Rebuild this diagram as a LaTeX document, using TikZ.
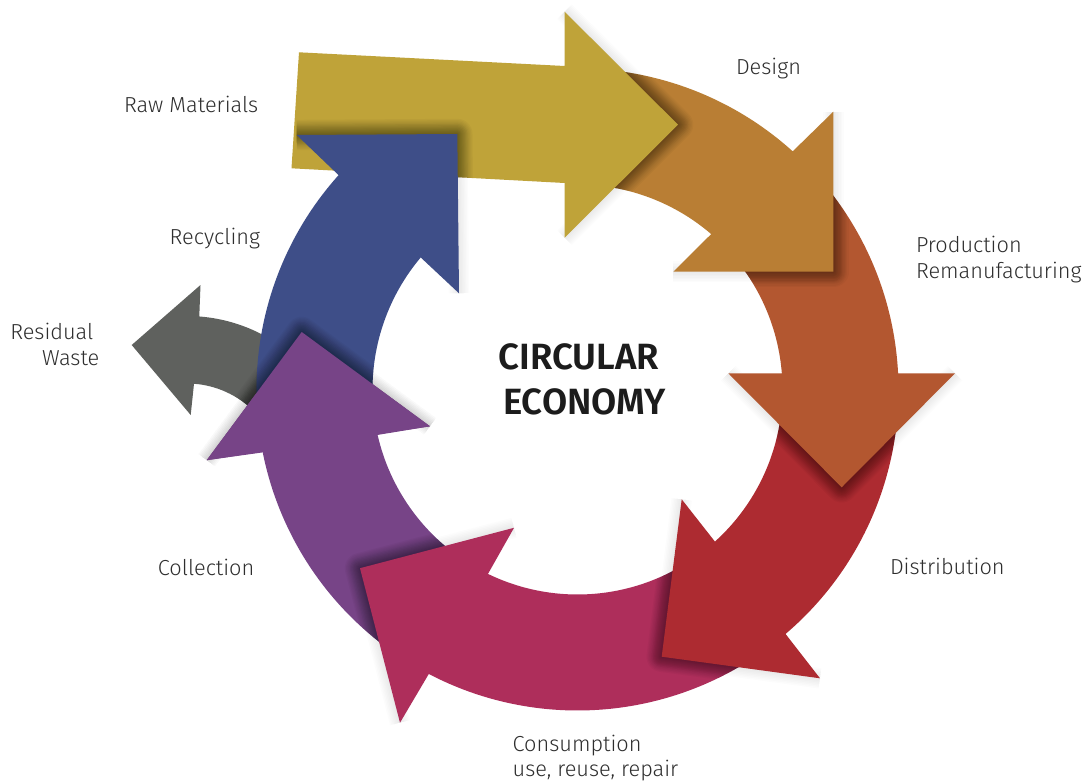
\documentclass[tikz,border=0pt]{standalone}
\usepackage{fontspec}
\setmainfont{Fira Sans}[UprightFont={* Light},BoldFont={* SemiBold}]
\usetikzlibrary{calc}
\definecolor{cgold}{HTML}{BFA339}
\definecolor{cdesign}{HTML}{B97E34}
\definecolor{cprod}{HTML}{B35730}
\definecolor{cdist}{HTML}{AD2B31}
\definecolor{ccons}{HTML}{AE2E5B}
\definecolor{ccoll}{HTML}{774487}
\definecolor{crecy}{HTML}{3E4E88}
\definecolor{cwaste}{HTML}{5F615E}
\definecolor{labelgray}{HTML}{2E2E2E}
\definecolor{titlegray}{HTML}{1C1C1C}
% #1: outline of the arrow lying beneath, #2-#4: corner, tip, corner of the head
\newcommand\headshade[4]{%
  \foreach \i in {1,...,7}{%
    \pgfmathsetmacro\shw{2.2*\i}%
    \draw[black,opacity=0.012,line width=\shw pt,line join=round] (#2) -- (#3) -- (#4);}%
  \begin{scope}
    \clip #1;
    \foreach \i in {1,...,12}{%
      \pgfmathsetmacro\shw{1.9*\i}%
      \draw[black,opacity=0.032,line width=\shw pt,line join=round] (#2) -- (#3) -- (#4);}%
  \end{scope}}
\begin{document}
\begin{tikzpicture}[x=0.75pt,y=-0.75pt,
  lbl/.style={inner sep=0pt,outer sep=0pt,text=labelgray,font=\fontsize{16.3}{19}\selectfont},
  ttl/.style={inner sep=0pt,outer sep=0pt,text=titlegray,font=\fontsize{27.4}{32}\selectfont\bfseries}]
\useasboundingbox (0,0) rectangle (1089,781);
\fill[white] (0,0) rectangle (1089,781);
\coordinate (C) at (577.5,389.5);
\coordinate (G) at (187,478);
\def\Ro{240.75pt}\def\Ri{153.75pt}
% arrow head points
\coordinate (dHO) at (833.3,111.7); \coordinate (dHT) at (833.3,271.7); \coordinate (dHI) at (673.3,271.7);
\coordinate (pHO) at (955,373.3);   \coordinate (pHT) at (841.7,487.3); \coordinate (pHI) at (728.3,373.3);
\coordinate (rHO) at (820,678.3);   \coordinate (rHT) at (661.7,656.7); \coordinate (rHI) at (681.7,499.3);
\coordinate (mHO) at (400,722.7);   \coordinate (mHT) at (360,568.2);   \coordinate (mHI) at (514,527.8);
\coordinate (uHO) at (206.7,460.2); \coordinate (uHT) at (301.7,332);   \coordinate (uHI) at (430,426.3);
\coordinate (bHO) at (296.7,135);   \coordinate (bHT) at (457.3,134);   \coordinate (bHI) at (459,293.3);
\coordinate (gHU) at (564.6,11.7);  \coordinate (gHT) at (678,124.7);   \coordinate (gHL) at (564.6,237.7);
\coordinate (wHU) at (200.5,285);   \coordinate (wHT) at (131.7,345);   \coordinate (wHL) at (190.7,415);
% arrow outlines
\def\pWaste{($(G)+(45:121.5pt)$) arc[start angle=45,end angle=85.65,radius=121.5pt]
  -- (wHU) -- (wHT) -- (wHL) -- ($(G)+(85.75:70.875pt)$) arc[start angle=85.75,end angle=45,radius=70.875pt] -- cycle}
\def\pColl{($(C)+(-122:\Ro)$) arc[start angle=-122,end angle=-168.7,radius=\Ro]
  -- (uHO) -- (uHT) -- (uHI) -- ($(C)+(-167.2:\Ri)$) arc[start angle=-167.2,end angle=-122,radius=\Ri] -- cycle}
\def\pCons{($(C)+(-55:\Ro)$) arc[start angle=-55,end angle=-117.6,radius=\Ro]
  -- (mHO) -- (mHT) -- (mHI) -- ($(C)+(-115.9:\Ri)$) arc[start angle=-115.9,end angle=-55,radius=\Ri] -- cycle}
\def\pDist{($(C)+(-2:\Ro)$) arc[start angle=-2,end angle=-49.6,radius=\Ro]
  -- (rHO) -- (rHT) -- (rHI) -- ($(C)+(-47.9:\Ri)$) arc[start angle=-47.9,end angle=-2,radius=\Ri] -- cycle}
\def\pProd{($(C)+(44:\Ro)$) arc[start angle=44,end angle=2.9,radius=\Ro]
  -- (pHO) -- (pHT) -- (pHI) -- ($(C)+(4.5:\Ri)$) arc[start angle=4.5,end angle=44,radius=\Ri] -- cycle}
\def\pDesign{($(C)+(92:\Ro)$) arc[start angle=92,end angle=47.9,radius=\Ro]
  -- (dHO) -- (dHT) -- (dHI) -- ($(C)+(49.3:\Ri)$) arc[start angle=49.3,end angle=92,radius=\Ri] -- cycle}
\def\pGold{(299,52.3) -- (564.6,66) -- (gHU) -- (gHT) -- (gHL) -- (564.6,183) -- (291.5,168.3) -- cycle}
\def\pRecy{($(C)+(-172:\Ro)$) arc[start angle=-172,end angle=-221.9,radius=\Ro]
  -- (bHO) -- (bHT) -- (bHI) -- ($(C)+(-220.1:\Ri)$) arc[start angle=-220.1,end angle=-172,radius=\Ri] -- cycle}
% residual waste (grey)
\fill[cwaste] \pWaste;
% collection (purple)
\headshade{\pWaste}{uHO}{uHT}{uHI}
\fill[ccoll] \pColl;
% consumption (magenta)
\headshade{\pColl}{mHO}{mHT}{mHI}
\fill[ccons] \pCons;
% distribution (red)
\headshade{\pCons}{rHO}{rHT}{rHI}
\fill[cdist] \pDist;
% production (rust)
\headshade{\pDist}{pHO}{pHT}{pHI}
\fill[cprod] \pProd;
% design (ochre)
\headshade{\pProd}{dHO}{dHT}{dHI}
\fill[cdesign] \pDesign;
% raw materials (gold, straight)
\headshade{\pDesign}{gHU}{gHT}{gHL}
\fill[cgold] \pGold;
% recycling (blue)
\headshade{\pGold}{bHO}{bHT}{bHI}
\fill[crecy] \pRecy;
% collection head again, on top of recycling
\headshade{\pRecy}{uHO}{uHT}{uHI}
\fill[ccoll] (uHO) -- (uHT) -- (uHI) -- cycle;
% labels
\node[lbl,anchor=base east] (tRaw) at (258.3,112.3) {Raw Materials};
\node[lbl,anchor=base west] (tDesign) at (736,74.3) {Design};
\node[lbl,anchor=base west] (tProd1) at (916,252.7) {Production};
\node[lbl,anchor=base west] (tProd2) at (916,278.3) {Remanufacturing};
\node[lbl,anchor=base west] (tDist) at (890,574.5) {Distribution};
\node[lbl,anchor=base west] (tCons1) at (512.7,751.7) {Consumption};
\node[lbl,anchor=base west] (tCons2) at (512.7,776.7) {use, reuse, repair};
\node[lbl,anchor=base east] (tColl) at (254.3,575) {Collection};
\node[lbl,anchor=base east] (tRecy) at (260,244.3) {Recycling};
\node[lbl,anchor=base east] (tRes1) at (93.3,339) {Residual};
\node[lbl,anchor=base east] (tRes2) at (99.3,365) {Waste};
\node[ttl,anchor=base] (tTitle1) at (578.7,369) {CIRCULAR};
\node[ttl,anchor=base] (tTitle2) at (584.5,414) {ECONOMY};
\end{tikzpicture}
\end{document}
